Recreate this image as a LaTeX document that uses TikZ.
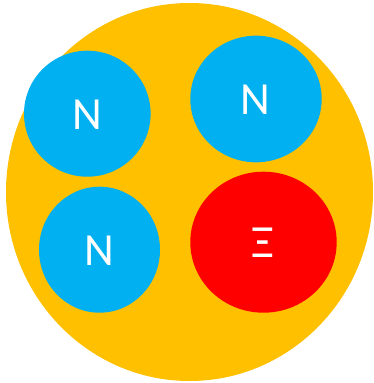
\documentclass[tikz,border=0pt]{standalone}
\usepackage{fontspec}
\setmainfont{Carlito}
\definecolor{gold}{HTML}{FFC000}
\definecolor{skyb}{HTML}{00B0F0}
\definecolor{redx}{HTML}{FF0000}
\begin{document}
\begin{tikzpicture}[x=1pt,y=-1pt,
  lbl/.style={text=white,font=\fontsize{46}{46}\selectfont,inner sep=0pt}]
\useasboundingbox (0,0) rectangle (373,383);
\fill[gold] (189.5,192) ellipse [x radius=183.5, y radius=189];
\fill[skyb] (87.3,113.7) ellipse [x radius=63.3, y radius=63];
\fill[skyb] (256,99) ellipse [x radius=65.7, y radius=63.3];
\fill[skyb] (99.5,249.7) ellipse [x radius=60.5, y radius=63];
\fill[redx] (263.5,242.2) ellipse [x radius=73.2, y radius=70.5];
\node[lbl] (n1) at (87,115) {N};
\node[lbl] (n2) at (255.5,100) {N};
\node[lbl] (n3) at (99,251) {N};
\node[lbl] (xi) at (263,243) {Ξ};
\end{tikzpicture}
\end{document}
